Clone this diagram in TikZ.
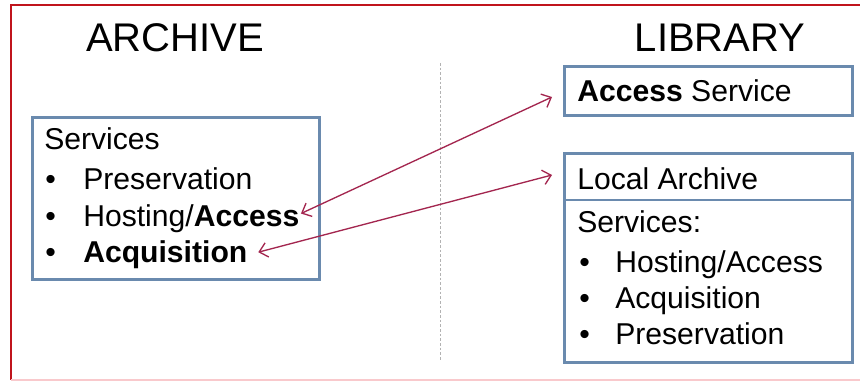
\documentclass[tikz,border=0pt]{standalone}
\usepackage{fontspec}
\setmainfont{Liberation Sans}
\usepackage{tikz}
\usetikzlibrary{arrows.meta,positioning}

\definecolor{frame}{HTML}{C0141C}
\definecolor{framelow}{HTML}{F9C9CC}
\definecolor{boxline}{HTML}{6A8AAE}
\definecolor{linkred}{HTML}{A3264F}

\tikzset{
	box/.style={draw=boxline, line width=1.9pt, anchor=north west, inner sep=0pt},
	title/.style={anchor=base, inner sep=0pt, font=\fontsize{30pt}{30pt}\selectfont},
	item/.style={anchor=base west, inner sep=0pt, font=\fontsize{22.6pt}{22.6pt}\selectfont},
	dot/.style={anchor=base west, inner sep=0pt, font=\fontsize{22.6pt}{22.6pt}\selectfont},
	link/.style={draw=linkred, line width=1pt, {Straight Barb[length=6pt,width=11pt]}-{Straight Barb[length=6pt,width=11pt]}}
}

\begin{document}
\begin{tikzpicture}[x=0.75pt,y=-0.75pt]
	\useasboundingbox (0,0) rectangle (860,381);

	% Red frame, cut off on the right
	\draw[frame, line width=2.2pt] (862,5) -- (11,5) -- (11,380);
	\draw[framelow, line width=2pt] (11,380) -- (862,380);

	% Dashed line between the two sides
	\draw[gray!60, dash pattern=on 2pt off 1.5pt, line width=0.6pt] (440,63) -- (440,360);

	% Headings
	\node[title] (archive) at (175,52) {ARCHIVE};
	\node[title] (library) at (720,52) {LIBRARY};

	% Archive services
	\node[box, minimum width=215.25pt, minimum height=121.5pt] (archbox) at (31,116) {};
	\node[item] (archserv) at (44,150) {Services};
	\node[dot] (b1) at (45,190) {•};
	\node[item] (pres) at (83,190) {Preservation};
	\node[dot] (b2) at (45,226) {•};
	\node[item] (hosting) at (83,226) {Hosting/\textbf{Access}};
	\node[dot] (b3) at (45,262) {•};
	\node[item] (acq) at (83,262) {\textbf{Acquisition}};

	% Library side
	\node[box, minimum width=216pt, minimum height=36.75pt] (accessbox) at (563,65) {};
	\node[item] (access) at (577,102) {\textbf{Access} Service};

	\node[box, minimum width=216pt, minimum height=156.75pt] (localbox) at (563,152) {};
	\draw[boxline, line width=1.9pt] (563,200) -- (851,200);
	\node[item] (local) at (577,190) {Local Archive};
	\node[item] (libserv) at (577,232) {Services:};
	\node[dot] (c1) at (579,272) {•};
	\node[item] (lhost) at (615,272) {Hosting/Access};
	\node[dot] (c2) at (579,308) {•};
	\node[item] (lacq) at (615,308) {Acquisition};
	\node[dot] (c3) at (579,344) {•};
	\node[item] (lpres) at (615,344) {Preservation};

	% Links between the two sides
	\coordinate (toaccess) at (552,97);
	\coordinate (tolocal) at (552,175);
	\draw[link] ([xshift=1pt,yshift=3.5pt]hosting.east) -- (toaccess);
	\draw[link] ([xshift=8pt,yshift=1.5pt]acq.east) -- (tolocal);
\end{tikzpicture}
\end{document}
